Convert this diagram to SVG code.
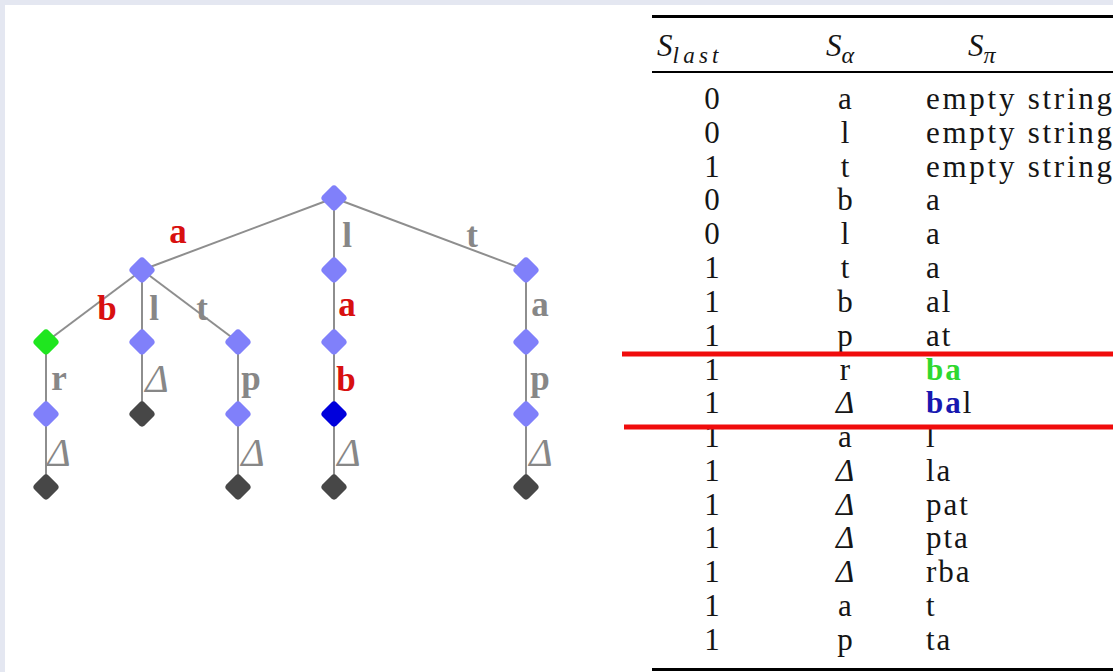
<svg xmlns="http://www.w3.org/2000/svg" xmlns:xlink="http://www.w3.org/1999/xlink" width="1113" height="672" viewBox="0 0 1113 672">
<style>
.edge{stroke:#8e8e8e;stroke-width:2;fill:none}
.nl{fill:#8080fa}
.ng{fill:#1fe61f}
.nb{fill:#0000dc}
.nd{fill:#474747}
.lab{font-family:"Liberation Serif",serif;font-size:35px;font-weight:bold}
.red{fill:#d81010}
.gry{fill:#878787}
.del{font-family:"Liberation Serif",serif;font-size:40px;font-style:italic;fill:#878787}
.t{font-family:"Liberation Serif",serif;font-size:31px;fill:#151515}
.c1{text-anchor:middle}
.c2{text-anchor:middle}
.c3{letter-spacing:2px}
.it{font-style:italic}
.rule{stroke:#000}
.hl{stroke:#f00c0c;stroke-width:5}
</style>
<defs>
<rect id="dia" x="-10" y="-10" width="20" height="20" rx="4" transform="rotate(45)"/>
</defs>
<rect x="0" y="0" width="1113" height="672" fill="#e4e7f1"/>
<rect x="5" y="5" width="1108" height="667" fill="#fff"/>

<g id="connectors">
<line class="edge" x1="334" y1="198" x2="142" y2="270"/>
<line class="edge" x1="334" y1="198" x2="334" y2="270"/>
<line class="edge" x1="334" y1="198" x2="526" y2="270"/>
<line class="edge" x1="142" y1="270" x2="46" y2="342"/>
<line class="edge" x1="142" y1="270" x2="142" y2="342"/>
<line class="edge" x1="142" y1="270" x2="238" y2="342"/>
<line class="edge" x1="334" y1="270" x2="334" y2="342"/>
<line class="edge" x1="526" y1="270" x2="526" y2="342"/>
<line class="edge" x1="46" y1="342" x2="46" y2="414"/>
<line class="edge" x1="142" y1="342" x2="142" y2="414"/>
<line class="edge" x1="238" y1="342" x2="238" y2="414"/>
<line class="edge" x1="334" y1="342" x2="334" y2="414"/>
<line class="edge" x1="526" y1="342" x2="526" y2="414"/>
<line class="edge" x1="46" y1="414" x2="46" y2="487"/>
<line class="edge" x1="238" y1="414" x2="238" y2="487"/>
<line class="edge" x1="334" y1="414" x2="334" y2="487"/>
<line class="edge" x1="526" y1="414" x2="526" y2="487"/>
<text class="lab red" x="178" y="243" text-anchor="middle">a</text>
<text class="lab gry" x="347" y="247" text-anchor="middle">l</text>
<text class="lab gry" x="472" y="247" text-anchor="middle">t</text>
<text class="lab red" x="107" y="320" text-anchor="middle">b</text>
<text class="lab gry" x="154" y="320" text-anchor="middle">l</text>
<text class="lab gry" x="202" y="320" text-anchor="middle">t</text>
<text class="lab red" x="347" y="316" text-anchor="middle">a</text>
<text class="lab gry" x="540" y="316" text-anchor="middle">a</text>
<text class="lab gry" x="59" y="390" text-anchor="middle">r</text>
<text class="del" x="157" y="392" text-anchor="middle">Δ</text>
<text class="lab gry" x="251" y="390" text-anchor="middle">p</text>
<text class="lab red" x="346" y="391" text-anchor="middle">b</text>
<text class="lab gry" x="540" y="390" text-anchor="middle">p</text>
<text class="del" x="59" y="466" text-anchor="middle">Δ</text>
<text class="del" x="253" y="466" text-anchor="middle">Δ</text>
<text class="del" x="349" y="466" text-anchor="middle">Δ</text>
<text class="del" x="541" y="466" text-anchor="middle">Δ</text>
</g>

<g id="n0"><use xlink:href="#dia" x="334" y="198" class="nl"/></g>
<g id="n1"><use xlink:href="#dia" x="142" y="270" class="nl"/></g>
<g id="n2"><use xlink:href="#dia" x="334" y="270" class="nl"/></g>
<g id="n3"><use xlink:href="#dia" x="526" y="270" class="nl"/></g>
<g id="n4"><use xlink:href="#dia" x="46" y="342" class="ng"/></g>
<g id="n5"><use xlink:href="#dia" x="142" y="342" class="nl"/></g>
<g id="n6"><use xlink:href="#dia" x="238" y="342" class="nl"/></g>
<g id="n7"><use xlink:href="#dia" x="334" y="342" class="nl"/></g>
<g id="n8"><use xlink:href="#dia" x="526" y="342" class="nl"/></g>
<g id="n9"><use xlink:href="#dia" x="46" y="414" class="nl"/></g>
<g id="n10"><use xlink:href="#dia" x="142" y="414" class="nd"/></g>
<g id="n11"><use xlink:href="#dia" x="238" y="414" class="nl"/></g>
<g id="n12"><use xlink:href="#dia" x="334" y="414" class="nb"/></g>
<g id="n13"><use xlink:href="#dia" x="526" y="414" class="nl"/></g>
<g id="n14"><use xlink:href="#dia" x="46" y="487" class="nd"/></g>
<g id="n15"><use xlink:href="#dia" x="238" y="487" class="nd"/></g>
<g id="n16"><use xlink:href="#dia" x="334" y="487" class="nd"/></g>
<g id="n17"><use xlink:href="#dia" x="526" y="487" class="nd"/></g>

<g id="table">
<line class="rule" x1="652" y1="16.5" x2="1113" y2="16.5" stroke-width="3"/>
<line class="rule" x1="652" y1="72" x2="1113" y2="72" stroke-width="2"/>
<line class="rule" x1="652" y1="669.5" x2="1113" y2="669.5" stroke-width="3"/>
<text class="t it" x="657" y="56">S<tspan font-size="23" dy="7" textLength="46">last</tspan></text>
<text class="t it" x="826" y="56">S<tspan font-size="24" dy="7">α</tspan></text>
<text class="t it" x="968" y="56">S<tspan font-size="24" dy="7">π</tspan></text>

<g class="t">
<text class="c1" x="712" y="109">0</text><text class="c2" x="845" y="109">a</text><text x="926" y="109" textLength="186">empty string</text>
<text class="c1" x="712" y="143">0</text><text class="c2" x="845" y="143">l</text><text x="926" y="143" textLength="186">empty string</text>
<text class="c1" x="712" y="177">1</text><text class="c2" x="845" y="177">t</text><text x="926" y="177" textLength="186">empty string</text>
<text class="c1" x="712" y="210">0</text><text class="c2" x="845" y="210">b</text><text class="c3" x="926" y="210">a</text>
<text class="c1" x="712" y="244">0</text><text class="c2" x="845" y="244">l</text><text class="c3" x="926" y="244">a</text>
<text class="c1" x="712" y="278">1</text><text class="c2" x="845" y="278">t</text><text class="c3" x="926" y="278">a</text>
<text class="c1" x="712" y="312">1</text><text class="c2" x="845" y="312">b</text><text class="c3" x="926" y="312">al</text>
<text class="c1" x="712" y="346">1</text><text class="c2" x="845" y="346">p</text><text class="c3" x="926" y="346">at</text>
<text class="c1" x="712" y="380">1</text><text class="c2" x="845" y="380">r</text><text class="c3" x="926" y="380" font-weight="bold" fill="#2fd82f">ba</text>
<text class="c1" x="712" y="413">1</text><text class="c2 it" x="845" y="413">Δ</text><text class="c3" x="926" y="413"><tspan font-weight="bold" fill="#1818b0">ba</tspan>l</text>
<text class="c1" x="712" y="447">1</text><text class="c2" x="845" y="447">a</text><text class="c3" x="926" y="447">l</text>
<text class="c1" x="712" y="481">1</text><text class="c2 it" x="845" y="481">Δ</text><text class="c3" x="926" y="481">la</text>
<text class="c1" x="712" y="515">1</text><text class="c2 it" x="845" y="515">Δ</text><text class="c3" x="926" y="515">pat</text>
<text class="c1" x="712" y="548">1</text><text class="c2 it" x="845" y="548">Δ</text><text class="c3" x="926" y="548">pta</text>
<text class="c1" x="712" y="582">1</text><text class="c2 it" x="845" y="582">Δ</text><text class="c3" x="926" y="582">rba</text>
<text class="c1" x="712" y="616">1</text><text class="c2" x="845" y="616">a</text><text class="c3" x="926" y="616">t</text>
<text class="c1" x="712" y="650">1</text><text class="c2" x="845" y="650">p</text><text class="c3" x="926" y="650">ta</text>
</g>
<line class="hl" x1="622" y1="354" x2="1113" y2="354"/>
<line class="hl" x1="624" y1="427" x2="1113" y2="427"/>
</g>
</svg>
